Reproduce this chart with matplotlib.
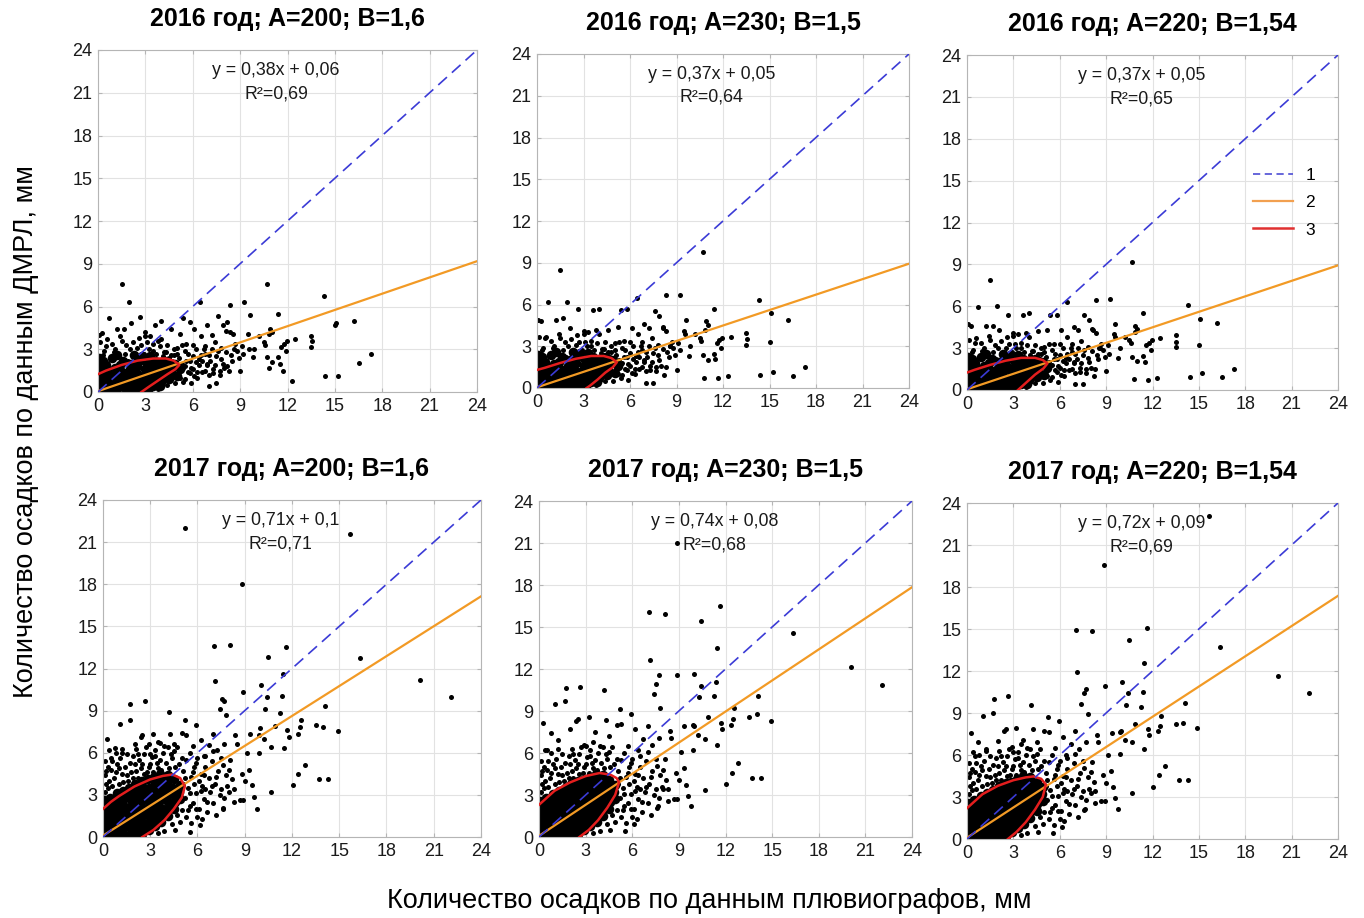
import numpy as np
import matplotlib
matplotlib.use('Agg')
import matplotlib.pyplot as plt
from matplotlib.lines import Line2D

plt.rcParams['font.family'] = ['Liberation Sans', 'DejaVu Sans']

# ---- подписи панелей и коэффициенты регрессии ----
titles = ['2016 год; A=200; B=1,6', '2016 год; A=230; B=1,5', '2016 год; A=220; B=1,54',
          '2017 год; A=200; B=1,6', '2017 год; A=230; B=1,5', '2017 год; A=220; B=1,54']
eq_text = ['y = 0,38x + 0,06', 'y = 0,37x + 0,05', 'y = 0,37x + 0,05',
           'y = 0,71x + 0,1', 'y = 0,74x + 0,08', 'y = 0,72x + 0,09']
r2_text = ['R²=0,69', 'R²=0,64', 'R²=0,65', 'R²=0,71', 'R²=0,68', 'R²=0,69']
slope = [0.38, 0.37, 0.37, 0.71, 0.74, 0.72]
icept = [0.06, 0.05, 0.05, 0.10, 0.08, 0.09]

# ---- 2016: отдельные точки (x общий, y для трех панелей) ----
x16 = [1.5, 10.7, 14.3, 1.95, 9.25, 6.45, 8.35, 0.7, 2.65, 15.1,
       16.2, 16.5, 17.3, 14.4, 15.2, 12.3, 13.5, 13.55, 13.5, 15.0,
       11.4, 9.6, 11.95, 11.75, 11.6, 11.9, 10.9, 11.0, 10.85, 10.5,
       10.6, 10.7, 11.0, 10.8, 11.4, 11.5, 11.7, 9.9, 9.8, 9.55,
       9.5, 9.0, 8.8, 8.1, 8.35, 8.55, 7.9, 8.15, 7.6, 7.0,
       7.5, 8.2, 5.4, 5.8, 3.6, 4.0, 0.25, 1.2, 1.65, 2.1,
       3.0, 3.3, 3.8, 4.6, 5.2, 6.1, 6.5, 7.2, 6.8, 7.4,
       6.2, 5.6, 5.0, 4.4, 6.0, 6.6, 7.0, 7.8, 8.4, 8.0,
       7.3, 6.8, 6.1, 5.5, 4.9, 5.9, 6.4, 5.3, 5.7, 4.8,
       7.6, 8.7, 9.2, 4.2, 3.5, 2.5, 1.8, 1.0, 0.3, 0.5,
       2.2, 3.1, 12.5, 10.2, 6.9, 0.05, 0.1, 4.5, 5.1, 4.0]
y16_a = [7.6, 7.55, 6.75, 6.3, 6.35, 6.35, 6.1, 5.2, 5.25, 4.85,
         4.95, 2.05, 2.65, 1.15, 1.15, 0.8, 3.95, 3.6, 3.15, 4.7,
         5.5, 5.4, 3.6, 3.35, 3.15, 2.9, 4.45, 4.2, 4.1, 3.5,
         3.3, 2.45, 2.1, 1.7, 2.45, 2.0, 1.45, 3.05, 2.45, 3.05,
         4.1, 1.5, 2.9, 4.3, 4.2, 4.1, 4.7, 4.9, 5.3, 0.45,
         0.6, 1.8, 5.2, 4.9, 4.7, 5.0, 4.15, 4.4, 4.4, 4.85,
         4.2, 3.9, 3.6, 4.4, 4.1, 4.4, 3.9, 4.0, 3.2, 3.5,
         3.0, 3.4, 3.1, 3.3, 2.5, 2.2, 2.6, 2.3, 2.6, 1.7,
         1.6, 1.5, 1.1, 0.9, 0.6, 0.6, 1.9, 2.0, 2.7, 2.6,
         2.9, 3.4, 2.7, 2.8, 2.9, 3.1, 3.3, 2.8, 2.6, 3.2,
         2.7, 3.5, 3.7, 3.9, 4.7, 4.0, 3.5, 1.5, 1.4, 3.7]
y16_b = [8.45, 9.8, 6.35, 6.15, 6.65, 6.5, 6.65, 6.2, 5.7, 5.4,
         4.9, 0.85, 1.5, 0.95, 1.15, 0.85, 3.95, 3.5, 3.1, 3.3,
         5.7, 4.9, 3.6, 3.45, 3.2, 2.9, 4.8, 4.5, 4.2, 3.6,
         3.4, 2.4, 2.0, 0.75, 2.45, 2.05, 0.75, 3.0, 2.3, 3.85,
         4.1, 1.3, 2.9, 4.4, 4.1, 3.0, 5.15, 4.3, 5.5, 0.35,
         0.35, 0.9, 5.6, 5.7, 5.6, 5.7, 4.8, 4.9, 5.0, 4.3,
         4.1, 4.0, 4.2, 4.2, 4.4, 4.3, 3.9, 4.3, 3.3, 3.6,
         3.0, 3.4, 3.2, 3.3, 2.5, 2.2, 2.6, 2.4, 2.6, 1.6,
         1.6, 1.5, 1.1, 0.9, 0.5, 0.6, 1.9, 2.0, 2.7, 2.6,
         2.9, 3.3, 2.7, 2.8, 3.0, 3.1, 3.3, 2.9, 2.7, 3.6,
         2.6, 3.3, 3.7, 3.9, 4.6, 4.9, 3.7, 1.5, 1.4, 3.9]
y16_c = [7.9, 9.2, 6.1, 6.05, 6.5, 6.3, 6.45, 5.95, 5.4, 5.1,
         4.8, 0.95, 1.5, 0.95, 1.2, 0.85, 3.95, 3.45, 3.1, 3.2,
         5.5, 4.75, 3.6, 3.4, 3.2, 2.85, 4.6, 4.4, 4.15, 3.55,
         3.35, 2.4, 2.1, 0.8, 2.45, 2.0, 0.75, 3.0, 2.3, 3.8,
         4.0, 1.35, 2.9, 4.4, 4.1, 3.0, 5.0, 4.3, 5.4, 0.4,
         0.4, 1.0, 5.4, 5.4, 5.4, 5.5, 4.6, 4.6, 4.6, 4.3,
         4.1, 4.0, 4.1, 4.2, 4.3, 4.3, 3.8, 4.3, 3.3, 3.5,
         3.0, 3.3, 3.1, 3.2, 2.5, 2.2, 2.6, 2.3, 2.5, 1.6,
         1.6, 1.5, 1.1, 0.9, 0.5, 0.6, 1.9, 2.0, 2.6, 2.6,
         2.9, 3.3, 2.6, 2.8, 3.0, 3.0, 3.2, 2.8, 2.7, 3.4,
         2.6, 3.3, 3.7, 3.8, 4.5, 4.7, 3.6, 1.5, 1.4, 3.8]

# 2016: облако у начала координат (почти одинаково на трех панелях)
cloud16_x = [0.2, 0.4, 0.8, 1.1, 1.3, 1.7, 2.0, 2.4, 2.7, 2.9,
             3.2, 3.4, 3.7, 3.9, 4.1, 4.3, 0.6, 1.5, 2.6, 3.5,
             0.9, 1.9, 3.0, 4.7, 5.4, 5.8, 6.3, 5.0, 5.6, 6.9,
             7.7, 4.4, 3.8, 2.2, 1.4,
             4.3, 4.6, 4.8, 5.1, 5.2, 5.5, 5.5, 5.8, 5.9, 6.0,
             6.2, 6.3, 6.5, 6.6, 6.7, 6.9, 7.0, 7.1, 7.2, 7.4,
             7.5, 7.7, 7.8, 7.9, 8.1, 8.3, 8.5, 8.6, 8.9, 9.1,
             4.5, 5.0, 5.3, 5.7, 6.4, 6.8, 7.3, 4.7, 5.4, 6.0]
cloud16_y = [2.4, 2.9, 2.3, 3.0, 2.5, 2.7, 3.0, 2.4, 3.3, 2.7,
             3.0, 2.2, 2.7, 3.2, 2.5, 2.8, 3.7, 3.6, 3.8, 3.4,
             3.4, 2.2, 3.9, 2.2, 1.7, 1.3, 1.4, 1.2, 2.2, 2.0,
             1.2, 0.5, 0.2, 3.5, 3.9,
             2.0, 2.6, 3.0, 2.4, 1.0, 1.8, 2.9, 2.2, 1.7, 3.3,
             2.1, 1.0, 2.6, 1.4, 3.0, 1.9, 1.2, 2.2, 3.0, 1.9,
             2.5, 1.5, 3.1, 2.0, 2.8, 1.5, 2.2, 3.0, 2.4, 3.2,
             2.4, 2.7, 3.3, 1.4, 2.3, 2.7, 1.3, 1.5, 0.7, 1.6]
core16_x = [0.1, 0.2, 0.1, 0.3, 0.1, 0.4, 0.5, 0.6, 0.7, 0.5,
            0.8, 0.9, 1.0, 1.1, 1.2, 1.3, 1.4, 1.5, 1.4, 1.6,
            1.7, 1.8, 1.9, 2.0, 2.1, 2.2, 2.3, 2.4, 2.5, 2.6,
            2.7, 2.8, 2.9, 3.0, 3.1, 3.2, 3.3, 3.4, 3.5, 3.6,
            3.7, 3.8, 3.9, 4.0, 4.2, 4.3, 4.4, 4.6, 4.7, 4.9,
            0.3, 0.9, 1.2, 2.3, 2.8, 3.3, 0.2, 0.6, 1.0, 1.6,
            0.05, 0.05, 0.05, 0.05, 2.0, 2.5, 3.0, 3.5, 4.0, 4.5,
            5.2, 5.0, 0.35, 0.8, 1.25, 1.9, 2.6, 3.2, 3.9, 4.4]
core16_y = [0.1, 0.5, 0.9, 1.3, 1.6, 0.2, 0.7, 1.1, 1.5, 1.9,
            0.3, 0.8, 1.2, 1.7, 0.2, 0.6, 1.0, 1.4, 1.9, 2.2,
            0.3, 0.8, 1.2, 1.6, 2.0, 0.5, 1.0, 1.4, 1.8, 2.2,
            0.4, 0.8, 1.2, 1.6, 2.0, 0.6, 1.0, 1.4, 1.8, 2.2,
            0.9, 1.3, 1.7, 2.1, 1.1, 1.5, 1.9, 1.3, 1.7, 2.0,
            2.2, 2.4, 2.6, 2.6, 2.5, 2.5, 0.3, 0.4, 0.5, 0.6,
            0.6, 1.2, 1.9, 2.4, 0.15, 0.1, 0.2, 0.4, 0.7, 0.9,
            1.6, 1.1, 1.05, 1.45, 0.4, 0.35, 0.7, 0.3, 0.45, 2.2]

# ---- 2017: отдельные точки (nan = за пределами графика) ----
nan = np.nan
x17 = [5.23, 15.66, 8.85, 7.07, 8.08, 11.64, 10.45, 16.34, 11.43, 7.13,
       20.1, 22.1, 7.55, 7.7, 8.9, 10.0, 10.4, 11.37, 11.26, 10.3,
       7.8, 7.4, 10.9, 14.1, 13.5, 14.0, 14.9, 12.57, 12.5, 12.35,
       11.8, 11.7, 11.47, 12.8, 12.4, 12.06, 13.7, 14.3, 10.67, 9.78,
       9.6, 8.7, 8.9, 8.3, 7.6, 7.65, 5.55, 6.14, 1.74, 1.7,
       1.06, 2.65, 2.5, 2.4, 4.17, 5.23, 0.25, 0.74, 5.93, 5.3,
       4.28, 3.2, 9.88, 9.35, 9.99, 10.2, 10.67, 9.88, 9.14, 8.83,
       9.3, 9.0, 9.45, 8.08, 8.4, 7.0, 6.7, 7.24, 7.7, 8.5,
       3.6, 2.0, 1.2, 3.0, 6.2, 5.0, 4.5, 0.5, 6.4, 8.0]
y17_a = [22.0, 21.6, 18.05, 13.6, 13.7, 13.55, 12.8, 12.75, 11.6, 11.1,
         11.2, 9.97, 9.85, 9.7, 10.3, 10.8, 10.0, 10.05, 8.85, 9.15,
         8.7, 9.15, 7.9, 9.3, 7.95, 7.8, 7.55, 8.35, 7.85, 7.35,
         7.1, 7.65, 6.35, 5.1, 4.5, 3.7, 4.15, 4.15, 3.2, 2.0,
         2.85, 2.65, 2.6, 2.5, 2.0, 2.1, 0.35, 0.83, 9.5, 8.3,
         8.05, 9.65, 7.25, 7.15, 8.9, 8.3, 7.0, 6.35, 7.95, 7.25,
         7.35, 7.3, 7.25, 7.35, 7.75, 7.0, 6.4, 5.95, 5.95, 4.5,
         4.75, 4.0, 3.7, 5.45, 7.25, 7.35, 6.55, 6.2, 6.65, 6.65,
         6.7, 6.6, 6.0, 5.9, 6.9, 7.4, 6.6, 5.6, 5.8, 3.2]
y17_b = [nan, nan, 21.0, 16.05, 15.95, 16.5, 15.45, 14.6, 13.5, 12.65,
         12.15, 10.85, 10.95, 11.55, 11.6, 11.65, 10.8, 11.1, 10.05, 10.0,
         9.2, 10.2, 8.55, 10.1, 8.6, 8.8, 8.3, 9.2, 8.45, 8.0,
         7.75, 8.15, 6.6, 5.3, 4.6, 3.8, 4.25, 4.25, 3.35, 2.2,
         2.95, 2.75, 2.75, 2.6, 2.1, 2.2, 0.4, 0.9, 10.65, 9.75,
         9.52, 10.75, 8.4, 8.3, 10.5, 9.15, 8.15, 7.4, 8.8, 8.05,
         8.35, 8.55, 8.0, 7.9, 7.9, 7.3, 7.0, 6.2, 6.1, 4.6,
         4.9, 4.05, 3.7, 5.6, 7.6, 7.9, 7.0, 6.6, 7.1, 7.1,
         7.5, 7.7, 6.9, 6.5, 7.7, 8.0, 7.2, 6.2, 6.2, 3.4]
y17_c = [nan, 23.1, 19.6, 14.9, 14.85, 15.1, 14.25, 13.7, 12.6, 11.9,
         11.65, 10.4, 10.4, 10.7, 10.95, 11.2, 10.4, 10.5, 9.45, 9.6,
         8.95, 9.65, 8.2, 9.75, 8.25, 8.3, 7.95, 8.8, 8.1, 7.7,
         7.45, 7.85, 6.45, 5.25, 4.55, 3.75, 4.2, 4.2, 3.3, 2.15,
         2.9, 2.7, 2.7, 2.55, 2.05, 2.15, 0.4, 0.85, 10.0, 9.0,
         8.8, 10.25, 7.85, 7.75, 9.6, 8.75, 7.55, 6.9, 8.4, 7.65,
         7.85, 7.95, 7.65, 7.6, 7.7, 7.1, 6.95, 6.05, 6.0, 4.55,
         4.85, 4.0, 3.7, 5.5, 7.45, 7.7, 6.8, 6.4, 6.9, 6.9,
         7.1, 7.0, 6.4, 6.2, 7.3, 7.7, 6.9, 5.9, 6.0, 3.3]

cloud17_x = [0.1, 0.2, 0.1, 0.3, 0.1, 0.6, 0.7, 0.5, 0.9, 1.0,
             1.2, 1.4, 1.1, 1.6, 1.8, 1.7, 1.9, 2.2, 2.4, 2.3,
             2.6, 2.8, 3.0, 3.1, 3.3, 3.5, 3.6, 3.8, 3.9, 4.2,
             4.4, 4.5, 4.7, 4.8, 5.1, 5.3, 5.5, 5.6, 5.8, 6.0,
             6.2, 6.3, 6.5, 6.7, 6.9, 7.1, 7.3, 7.5, 7.8, 5.2,
             5.4, 5.7, 5.9, 6.1, 6.4, 6.6, 6.8, 7.0, 7.2, 5.0,
             5.3, 4.9, 4.4, 4.6, 3.9, 3.5, 5.6, 6.0, 5.8, 6.1,
             5.5, 6.5, 7.4, 7.9, 8.2, 7.6, 0.4, 1.5, 2.1, 2.9,
             0.3, 0.4, 0.8, 0.2, 0.6, 1.3, 1.5, 1.0, 1.9, 2.1,
             2.0, 2.6, 2.5, 2.9, 3.2, 3.4, 3.7, 4.0, 4.3, 4.6,
             5.0, 5.2, 5.5, 5.7, 5.9, 6.2, 6.4, 6.6, 6.9, 7.2,
             7.5, 7.7, 8.0, 8.3, 5.1, 4.9, 5.9, 6.3, 5.4, 4.7,
             1.2, 2.7, 3.5, 0.8, 4.1, 5.7, 6.5, 7.0, 3.3, 2.2]
cloud17_y = [3.2, 3.8, 4.4, 5.0, 5.4, 3.6, 4.2, 4.8, 5.2, 3.8,
             4.5, 5.0, 5.6, 4.0, 4.6, 5.3, 5.8, 4.2, 4.9, 5.5,
             5.9, 4.6, 5.2, 5.7, 6.2, 4.9, 5.5, 6.0, 6.5, 4.9,
             5.6, 6.1, 6.4, 5.2, 4.7, 5.5, 6.0, 4.3, 5.0, 5.6,
             4.5, 3.6, 5.0, 4.2, 5.4, 3.8, 4.7, 5.6, 4.4, 2.8,
             3.5, 2.4, 3.1, 2.0, 2.7, 1.8, 3.2, 2.4, 1.6, 1.9,
             1.4, 1.1, 0.9, 0.5, 0.4, 0.3, 1.0, 1.4, 3.8, 4.0,
             2.2, 3.4, 3.0, 3.6, 4.1, 5.1, 6.2, 5.9, 6.3, 6.6,
             3.5, 4.0, 4.6, 4.7, 5.4, 3.9, 4.4, 4.9, 4.2, 4.7,
             5.2, 4.5, 5.2, 5.0, 4.6, 5.3, 4.8, 5.3, 5.9, 5.0,
             5.6, 4.2, 3.1, 4.6, 5.3, 3.3, 4.4, 2.5, 3.6, 4.3,
             3.4, 2.8, 4.8, 3.4, 3.8, 3.2, 2.0, 1.3, 1.9, 1.6,
             6.3, 6.4, 6.8, 6.0, 6.4, 6.5, 5.8, 6.1, 5.8, 5.9]
core17_x = [0.1, 0.05, 0.1, 0.15, 0.1, 0.05,
            0.5, 0.45, 0.5, 0.55, 0.5, 0.45,
            0.9, 0.95, 0.9, 0.85, 0.9, 0.95, 0.9,
            1.3, 1.35, 1.3, 1.25, 1.3, 1.35, 1.3,
            1.7, 1.75, 1.7, 1.65, 1.7, 1.75, 1.7, 1.65,
            2.1, 2.15, 2.1, 2.05, 2.1, 2.15, 2.1, 2.05,
            2.5, 2.55, 2.5, 2.45, 2.5, 2.55, 2.5, 2.45, 2.5,
            2.9, 2.95, 2.9, 2.85, 2.9, 2.95, 2.9, 2.85,
            3.3, 3.35, 3.3, 3.25, 3.3, 3.35, 3.3, 3.25,
            3.7, 3.75, 3.7, 3.65, 3.7, 3.75, 3.7, 3.65,
            4.1, 4.15, 4.1, 4.05, 4.1, 4.15, 4.1,
            4.5, 4.55, 4.5, 4.45, 4.5,
            4.9, 4.85, 4.9,
            0.3, 0.7, 1.1, 1.5, 1.9, 2.3, 2.7, 3.1, 3.5, 3.9, 4.3,
            0.3, 0.7, 1.1, 1.5, 1.9, 2.3, 2.7, 3.1, 3.5]
core17_y = [0.1, 0.6, 1.1, 1.6, 2.1, 2.6,
            0.3, 0.8, 1.3, 1.8, 2.3, 2.8,
            0.1, 0.6, 1.1, 1.6, 2.1, 2.6, 3.1,
            0.3, 0.8, 1.3, 1.8, 2.3, 2.8, 3.3,
            0.1, 0.6, 1.1, 1.6, 2.1, 2.6, 3.1, 3.5,
            0.3, 0.8, 1.3, 1.8, 2.3, 2.8, 3.3, 3.8,
            0.2, 0.6, 1.1, 1.6, 2.1, 2.6, 3.1, 3.6, 4.0,
            0.5, 1.0, 1.5, 2.0, 2.5, 3.0, 3.5, 4.1,
            0.8, 1.3, 1.8, 2.3, 2.8, 3.3, 3.8, 4.3,
            1.1, 1.6, 2.1, 2.6, 3.1, 3.6, 4.1, 4.5,
            1.5, 2.0, 2.5, 3.0, 3.5, 4.0, 4.4,
            2.0, 2.5, 3.0, 3.5, 4.1,
            2.7, 3.2, 3.7,
            1.35, 1.85, 2.35, 2.05, 2.85, 2.55, 3.35, 2.75, 3.85, 3.3, 2.2,
            0.55, 1.05, 0.55, 1.3, 0.35, 1.05, 0.85, 1.25, 1.5]

# ---- контуры (3) для каждой панели ----
cont_x = [[0, 0.5, 1.5, 2.5, 3.5, 4.3, 4.8, 5.15, 4.9, 4.4, 3.8, 3.2, 2.75],
          [0, 0.5, 1.5, 2.5, 3.5, 4.3, 4.8, 5.15, 4.9, 4.4, 3.9, 3.4, 3.2],
          [0, 0.5, 1.5, 2.5, 3.5, 4.4, 4.9, 5.2, 4.95, 4.4, 3.9, 3.5, 3.3],
          [0, 0.5, 1.0, 2.0, 3.0, 3.8, 4.4, 4.9, 5.2, 5.0, 4.5, 3.9, 3.2, 2.5],
          [0, 0.5, 1.0, 2.0, 3.0, 3.9, 4.6, 5.0, 5.15, 4.9, 4.4, 3.8, 3.2, 2.6],
          [0, 0.5, 1.0, 2.0, 3.0, 3.8, 4.3, 4.8, 5.1, 4.9, 4.4, 3.8, 3.2, 2.65]]
cont_y = [[1.25, 1.5, 1.9, 2.2, 2.35, 2.35, 2.2, 1.9, 1.6, 1.25, 0.8, 0.35, 0.0],
          [1.3, 1.45, 1.8, 2.1, 2.3, 2.3, 2.15, 1.85, 1.5, 1.1, 0.6, 0.15, 0.0],
          [1.25, 1.45, 1.8, 2.1, 2.3, 2.3, 2.15, 1.9, 1.55, 1.1, 0.6, 0.2, 0.0],
          [2.0, 2.5, 2.9, 3.6, 4.1, 4.35, 4.45, 4.2, 3.6, 2.8, 2.0, 1.2, 0.5, 0.0],
          [2.3, 2.8, 3.3, 3.9, 4.35, 4.57, 4.45, 4.2, 3.9, 3.0, 2.1, 1.2, 0.5, 0.0],
          [2.2, 2.7, 3.2, 3.8, 4.2, 4.4, 4.47, 4.3, 3.9, 3.0, 2.1, 1.2, 0.5, 0.0]]

ticks = [0, 3, 6, 9, 12, 15, 18, 21, 24]

# положения осей в пикселях: left, top, right, bottom
boxes = [(98, 50, 477, 392), (537, 54, 909, 388), (967, 55, 1338, 390),
         (103, 500, 481, 837), (539, 501, 912, 837), (967, 503, 1338, 839)]
W, H = 1364, 918

fig = plt.figure(figsize=(W / 100, H / 100), dpi=100)

panels = [(x16, y16_a, cloud16_x, cloud16_y, core16_x, core16_y),
          (x16, y16_b, cloud16_x, cloud16_y, core16_x, core16_y),
          (x16, y16_c, cloud16_x, cloud16_y, core16_x, core16_y),
          (x17, y17_a, cloud17_x, cloud17_y, core17_x, core17_y),
          (x17, y17_b, cloud17_x, cloud17_y, core17_x, core17_y),
          (x17, y17_c, cloud17_x, cloud17_y, core17_x, core17_y)]

for i, (px, py, clx, cly, cox, coy) in enumerate(panels):
    l, t, r, b = boxes[i]
    ax = fig.add_axes([l / W, 1 - b / H, (r - l) / W, (b - t) / H])
    ax.set_xlim(0, 24)
    ax.set_ylim(0, 24)
    ax.set_xticks(ticks)
    ax.set_yticks(ticks)
    ax.grid(True, color='#e2e2e2', lw=0.8)
    ax.set_axisbelow(True)
    for s in ax.spines.values():
        s.set_color('#b5b5b5')
        s.set_linewidth(0.8)
    ax.tick_params(labelsize=13, labelcolor='#1a1a1a', color='#b5b5b5',
                   direction='in', length=3, top=True, right=True, pad=4)

    # точки
    ax.scatter(cox, coy, s=48, c='black', lw=0, zorder=2)
    ax.scatter(clx, cly, s=13, c='black', lw=0, zorder=2)
    ax.scatter(px, py, s=13, c='black', lw=0, zorder=2)

    # линия регрессии (2), контур (3), линия y=x (1)
    xx = np.array([0, 24])
    ax.plot(xx, slope[i] * xx + icept[i], color='#f29a25', lw=1.6, zorder=3)
    ax.plot(cont_x[i], cont_y[i], color='#e41e1e', lw=1.8, zorder=4)
    ax.plot([0, 24], [0, 24], color='#3b3bd6', lw=1.2, ls=(0, (7, 4)), zorder=5)

    ax.text(0.47, 0.94, eq_text[i], transform=ax.transAxes, ha='center', va='center',
            fontsize=12.8, color='#1a1a1a')
    ax.text(0.47, 0.87, r2_text[i], transform=ax.transAxes, ha='center', va='center',
            fontsize=12.8, color='#1a1a1a')
    ax.set_title(titles[i], fontsize=18, fontweight='bold', pad=17)

    if i == 2:
        handles = [Line2D([], [], color='#5a5ad8', lw=1.3, ls=(0, (4, 2.5))),
                   Line2D([], [], color='#f2a050', lw=1.6),
                   Line2D([], [], color='#e03030', lw=1.8)]
        ax.legend(handles, ['1', '2', '3'], loc='upper left', bbox_to_anchor=(0.73, 0.71),
                  frameon=False, fontsize=12.5, handlelength=2.3, labelspacing=0.7,
                  handletextpad=0.7)

fig.text(0.019, 0.53, 'Количество осадков по данным ДМРЛ, мм', rotation=90,
         ha='center', va='center', fontsize=19.5)
fig.text(0.52, 0.019, 'Количество осадков по данным плювиографов, мм',
         ha='center', va='center', fontsize=19.5)

fig.savefig('out.png', dpi=100)
